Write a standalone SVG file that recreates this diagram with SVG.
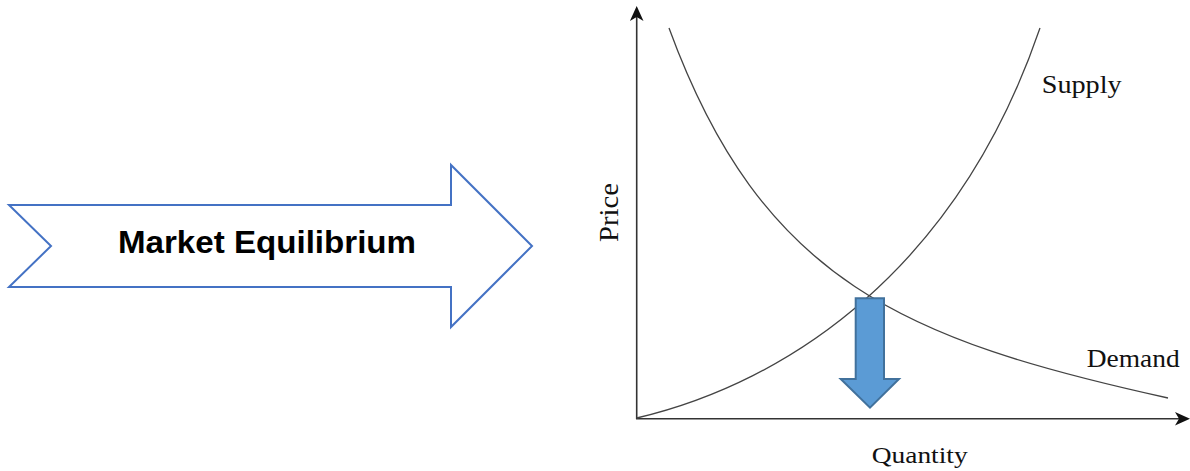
<svg xmlns="http://www.w3.org/2000/svg" width="1190" height="471" viewBox="0 0 1190 471">
  <style>
    .serif { font-family: "Liberation Serif", "Times New Roman", serif; fill: #111; }
    .axis { stroke: #333; stroke-width: 1.6; fill: none; }
    .curve { stroke: #444; stroke-width: 1.3; fill: none; }
    .head { fill: #111; stroke: none; }
  </style>
  <rect width="1190" height="471" fill="#fff"/>

  <g id="market-equilibrium-arrow">
    <polygon points="9,205 451,205 451,165 532,246 451,327 451,287 9,287 51,246" fill="#fff" stroke="#4472C4" stroke-width="2" stroke-linejoin="miter"/>
    <text x="267" y="253" text-anchor="middle" font-family="Liberation Sans, Arial, sans-serif" font-weight="bold" font-size="31" textLength="298" lengthAdjust="spacingAndGlyphs" fill="#000">Market Equilibrium</text>
  </g>

  <g id="axes">
    <line class="axis" x1="636.7" y1="419" x2="636.7" y2="14"/>
    <path class="head" d="M636.7,6 L643.5,21 L636.7,17 L629.9,21 Z"/>
    <line class="axis" x1="636" y1="418.7" x2="1182" y2="418.7"/>
    <path class="head" d="M1190,418.7 L1175,411.9 L1179,418.7 L1175,425.5 Z"/>
  </g>

  <g id="connectors">
    <path id="demand-curve" class="curve" d="M669,28 C762,282 905,340 1168,398"/>
    <path id="supply-curve" class="curve" d="M636.7,418 C790,382 958,268 1040,28"/>
  </g>

  <g id="down-arrow">
    <polygon points="855.7,298.3 884,298.3 884,379 899,379 870,407.7 840.7,379 855.7,379" fill="#5B9BD5" stroke="#41719C" stroke-width="2" stroke-linejoin="miter"/>
  </g>

  <g id="label-supply">
    <text class="serif" x="1041.7" y="93.3" font-size="25" textLength="80" lengthAdjust="spacingAndGlyphs">Supply</text>
  </g>
  <g id="label-demand">
    <text class="serif" x="1086.7" y="366.7" font-size="25" textLength="93" lengthAdjust="spacingAndGlyphs">Demand</text>
  </g>
  <g id="label-quantity">
    <text class="serif" x="871.7" y="463" font-size="24" textLength="96" lengthAdjust="spacingAndGlyphs">Quantity</text>
  </g>
  <g id="label-price">
    <text class="serif" transform="translate(617.5,242) rotate(-90)" x="0" y="0" font-size="27" textLength="59" lengthAdjust="spacingAndGlyphs">Price</text>
  </g>
</svg>
